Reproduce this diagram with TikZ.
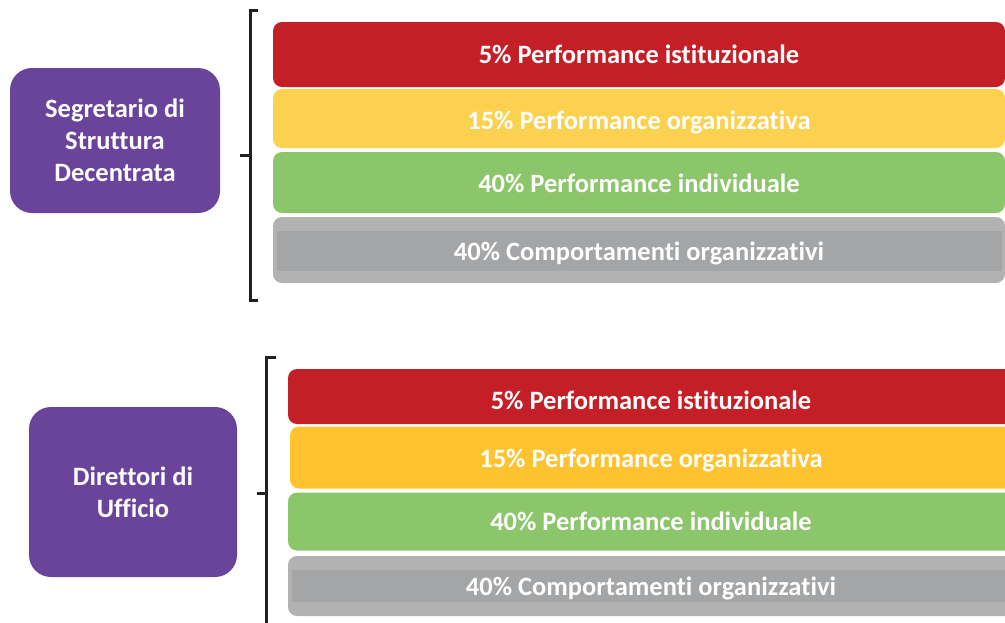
\documentclass[tikz,border=0pt]{standalone}
\usepackage{fontspec}
\setmainfont{Carlito}[Ligatures=NoCommon]
\definecolor{rolepurple}{HTML}{6A449A}
\definecolor{barred}{HTML}{C41F26}
\definecolor{baryellowA}{HTML}{FCD150}
\definecolor{baryellowB}{HTML}{FFC32F}
\definecolor{bargreen}{HTML}{8CC66A}
\definecolor{bargrayout}{HTML}{B2B2B2}
\definecolor{bargrayin}{HTML}{A4A5A7}
\definecolor{bracketdark}{HTML}{231F20}
\begin{document}
\begin{tikzpicture}[x=1pt,y=-1pt,
  bar/.style={rounded corners=9pt, inner sep=0pt, draw=none},
  barinner/.style={rectangle, inner sep=0pt, draw=none, fill=bargrayin},
  bartext/.style={inner sep=0pt, text=white, text height=17.3pt, text depth=0pt,
    font=\bfseries\fontsize{26.5}{30}\selectfont},
  role/.style={fill=rolepurple, rounded corners=22pt, inner sep=0pt, text=white,
    align=center, font=\bfseries\fontsize{26.5}{32}\selectfont},
  bracket/.style={line width=3pt, draw=bracketdark}]
\useasboundingbox (0,0) rectangle (1005,622);

% --- first group: Segretario di Struttura Decentrata ---
\node[role, minimum width=210pt, minimum height=145pt] (roleA) at (115,140.5)
  {Segretario di\\Struttura\\Decentrata};

\node[bar, fill=barred, minimum width=732pt, minimum height=65pt] (a1) at (639,54.5) {};
\node[bar, fill=baryellowA, minimum width=732pt, minimum height=59pt] (a2) at (639,118.5) {};
\node[bar, fill=bargreen, minimum width=732pt, minimum height=61pt] (a3) at (639,182.5) {};
\node[bar, fill=bargrayout, minimum width=732pt, minimum height=66pt] (a4) at (639,250) {};
\node[barinner, minimum width=725pt, minimum height=40pt] (a4in) at (639.5,251) {};

\node[bartext] (a1t) at (639,54.7)  {5\% Performance istituzionale};
\node[bartext] (a2t) at (639,120.8) {15\% Performance organizzativa};
\node[bartext] (a3t) at (639,184)   {40\% Performance individuale};
\node[bartext] (a4t) at (639,251.7) {40\% Comportamenti organizzativi};

\draw[bracket] (258,10) -- (250,10) -- (250,300) -- (258,300);
\draw[bracket] (240,155) -- (250,155);

% --- second group: Direttori di Ufficio ---
\node[role, minimum width=208pt, minimum height=170pt] (roleB) at (133,492)
  {Direttori di\\Ufficio};

\node[bar, fill=barred, minimum width=726pt, minimum height=55pt] (b1) at (651,396.5) {};
\node[bar, fill=baryellowB, minimum width=724pt, minimum height=62pt] (b2) at (652,457.5) {};
\node[bar, fill=bargreen, minimum width=726pt, minimum height=58pt] (b3) at (651,521.5) {};
\node[bar, fill=bargrayout, minimum width=726pt, minimum height=60pt] (b4) at (651,586) {};
\node[barinner, minimum width=719pt, minimum height=32pt] (b4in) at (651.5,586) {};

\node[bartext] (b1t) at (651,401)   {5\% Performance istituzionale};
\node[bartext] (b2t) at (651,459)   {15\% Performance organizzativa};
\node[bartext] (b3t) at (651,522.3) {40\% Performance individuale};
\node[bartext] (b4t) at (651,587)   {40\% Comportamenti organizzativi};

\draw[bracket] (276,357) -- (266.5,357) -- (266.5,630);
\draw[bracket] (257,493) -- (266.5,493);
\end{tikzpicture}
\end{document}
